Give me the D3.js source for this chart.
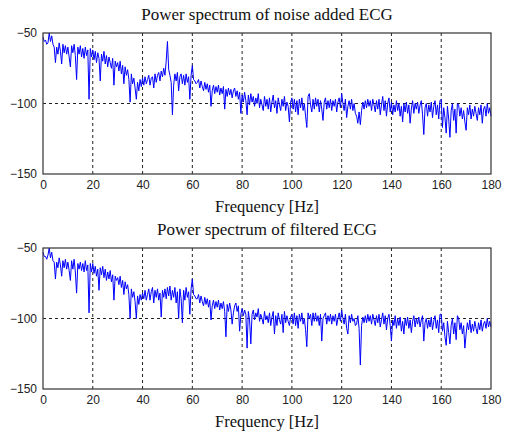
<!DOCTYPE html>
<html>
<head>
<meta charset="utf-8">
<script src="https://cdn.jsdelivr.net/npm/d3@7/dist/d3.min.js"></script>
<style>
    body { margin: 0; background: #ffffff; }
    .tick-label { font-family: "Liberation Sans", Arial, sans-serif; font-size: 12px; fill: #222; }
    .title-text { font-family: "Liberation Serif", "Times New Roman", serif; font-size: 17px; fill: #111; }
    .label-text { font-family: "Liberation Serif", "Times New Roman", serif; font-size: 16.5px; fill: #111; }
</style>
</head>
<body>
<svg id="chart" width="508" height="435"></svg>
<script>
// 頻譜資料 (dB)，頻率間隔 0.5 Hz，從 0 到 180 Hz
const freqStep = 0.5;

const xTicks = [0, 20, 40, 60, 80, 100, 120, 140, 160, 180];
const yTicks = [-50, -100, -150];

const noisyTitle = 'Power spectrum of noise added ECG';
const filteredTitle = 'Power spectrum of filtered ECG';
const xLabel = 'Frequency [Hz]';

// 加入雜訊的 ECG 功率譜
const noisySpectrum = [
    -53,-56,-55,-58,-57,-50,-56,-52,-58,-60,-71,-60,-65,-57,-63,-72,-58,-64,-59,-65,
    -60,-67,-74,-59,-64,-58,-66,-83,-60,-65,-59,-67,-61,-68,-60,-66,-62,-97,-61,-67,
    -62,-69,-63,-71,-64,-68,-84,-65,-70,-63,-72,-66,-74,-67,-71,-75,-68,-87,-70,-74,
    -71,-77,-70,-79,-73,-86,-74,-80,-76,-83,-99,-79,-86,-82,-89,-97,-85,-91,-83,-88,
    -82,-87,-81,-86,-83,-80,-87,-82,-81,-89,-79,-85,-80,-78,-84,-77,-81,-75,-80,-70,
    -56,-76,-80,-85,-108,-87,-79,-84,-78,-91,-81,-79,-86,-80,-87,-79,-85,-81,-97,-80,
    -73,-83,-84,-86,-85,-83,-89,-84,-88,-91,-85,-90,-86,-92,-87,-102,-91,-87,-93,-88,
    -92,-87,-94,-89,-93,-88,-104,-90,-95,-89,-94,-90,-96,-91,-89,-95,-91,-97,-92,-107,
    -94,-99,-92,-98,-108,-94,-101,-93,-99,-95,-102,-96,-100,-93,-103,-97,-101,-105,-95,-102,
    -97,-104,-96,-106,-99,-94,-103,-98,-107,-96,-101,-105,-97,-102,-95,-105,-99,-102,-113,-99,
    -96,-104,-97,-106,-98,-108,-97,-103,-96,-105,-100,-109,-117,-95,-93,-101,-106,-97,-104,-96,
    -102,-97,-106,-98,-104,-112,-99,-96,-104,-98,-103,-97,-105,-98,-102,-97,-106,-99,-96,-103,
    -93,-100,-105,-97,-110,-102,-98,-104,-97,-105,-100,-107,-109,-114,-106,-115,-105,-99,-104,-98,
    -103,-97,-102,-98,-105,-97,-101,-106,-98,-104,-97,-108,-101,-95,-105,-98,-109,-100,-96,-106,
    -99,-108,-101,-106,-98,-105,-100,-109,-102,-113,-100,-106,-99,-107,-101,-114,-104,-98,-107,-100,
    -104,-99,-107,-101,-98,-108,-122,-103,-100,-109,-101,-106,-99,-110,-102,-98,-108,-101,-111,-98,
    -97,-117,-103,-110,-121,-102,-111,-124,-105,-100,-112,-104,-121,-100,-101,-109,-103,-111,-105,-113,
    -119,-103,-108,-101,-111,-104,-109,-102,-107,-112,-103,-108,-101,-114,-104,-102,-109,-100,-107,-103,
    -109
];

// 濾波後的 ECG 功率譜
const filteredSpectrum = [
    -53,-56,-56,-58,-55,-50,-57,-53,-59,-60,-72,-60,-64,-57,-62,-70,-59,-64,-58,-65,
    -60,-66,-73,-59,-65,-58,-67,-82,-61,-65,-60,-66,-61,-67,-59,-66,-62,-96,-61,-67,
    -61,-68,-63,-70,-65,-80,-64,-69,-63,-71,-65,-73,-67,-72,-66,-74,-69,-87,-70,-73,
    -71,-76,-70,-78,-73,-83,-74,-79,-76,-83,-100,-79,-85,-81,-88,-100,-84,-90,-83,-87,
    -82,-86,-80,-87,-83,-79,-87,-81,-78,-89,-80,-85,-79,-87,-82,-99,-80,-85,-79,-86,
    -78,-84,-77,-87,-80,-85,-78,-89,-81,-100,-79,-86,-103,-80,-87,-78,-85,-81,-97,-79,
    -72,-83,-84,-86,-86,-83,-89,-84,-88,-91,-85,-90,-86,-92,-87,-101,-91,-87,-93,-88,
    -92,-87,-94,-89,-93,-88,-95,-113,-90,-95,-89,-94,-104,-96,-91,-89,-95,-91,-109,-97,
    -93,-98,-94,-97,-121,-95,-101,-118,-97,-94,-101,-96,-99,-93,-102,-97,-100,-104,-95,-101,
    -98,-103,-96,-105,-99,-95,-111,-98,-105,-96,-101,-104,-97,-110,-95,-103,-98,-102,-105,-99,
    -97,-104,-96,-105,-98,-107,-97,-102,-96,-104,-100,-108,-120,-96,-100,-97,-105,-96,-102,-96,
    -102,-98,-105,-97,-116,-100,-98,-96,-104,-98,-102,-97,-104,-98,-102,-97,-105,-100,-96,-102,
    -94,-100,-104,-97,-107,-111,-98,-103,-97,-102,-100,-105,-104,-98,-107,-133,-105,-99,-103,-98,
    -103,-97,-102,-98,-104,-97,-101,-105,-98,-103,-97,-106,-101,-96,-104,-98,-108,-100,-97,-105,
    -116,-101,-105,-98,-107,-100,-105,-99,-109,-102,-111,-100,-105,-99,-107,-101,-110,-102,-98,-106,
    -100,-104,-99,-106,-101,-98,-116,-103,-100,-107,-101,-106,-99,-108,-102,-98,-107,-101,-110,-97,
    -97,-109,-103,-113,-119,-102,-110,-118,-105,-100,-111,-103,-115,-98,-100,-108,-103,-111,-105,-121,
    -111,-103,-108,-101,-110,-104,-109,-102,-107,-111,-103,-108,-101,-109,-104,-102,-107,-100,-106,-102,
    -106
];

// 繪製單一子圖
function drawPanel(svg, values, title, box) {
    const xScale = d3.scaleLinear()
        .domain([0, 180])
        .range([box.left, box.right]);

    const yScale = d3.scaleLinear()
        .domain([-150, -50])
        .range([box.bottom, box.top]);

    const g = svg.append('g');

    // 標題
    g.append('text')
        .attr('class', 'title-text')
        .attr('x', (box.left + box.right) / 2)
        .attr('y', box.top - 13)
        .attr('text-anchor', 'middle')
        .text(title);

    // 格線 (虛線)
    g.selectAll('.vgrid')
        .data(xTicks.filter(d => d > 0 && d < 180))
        .enter()
        .append('line')
        .attr('x1', d => xScale(d))
        .attr('x2', d => xScale(d))
        .attr('y1', box.top)
        .attr('y2', box.bottom)
        .attr('stroke', '#222')
        .attr('stroke-width', 1)
        .attr('stroke-dasharray', '3,3');

    g.selectAll('.hgrid')
        .data(yTicks.filter(d => d > -150 && d < -50))
        .enter()
        .append('line')
        .attr('x1', box.left)
        .attr('x2', box.right)
        .attr('y1', d => yScale(d))
        .attr('y2', d => yScale(d))
        .attr('stroke', '#222')
        .attr('stroke-width', 1)
        .attr('stroke-dasharray', '3,3');

    // 頻譜線
    const line = d3.line()
        .x((d, i) => xScale(i * freqStep))
        .y(d => yScale(d));

    g.append('path')
        .datum(values)
        .attr('fill', 'none')
        .attr('stroke', '#0000ff')
        .attr('stroke-width', 1)
        .attr('stroke-linejoin', 'round')
        .attr('d', line);

    // 外框
    g.append('rect')
        .attr('x', box.left)
        .attr('y', box.top)
        .attr('width', box.right - box.left)
        .attr('height', box.bottom - box.top)
        .attr('fill', 'none')
        .attr('stroke', '#333')
        .attr('stroke-width', 1.2);

    // 座標軸刻度文字
    const xAxis = g.append('g')
        .attr('transform', `translate(0, ${box.bottom})`)
        .call(d3.axisBottom(xScale).tickValues(xTicks).tickSize(0).tickPadding(6));
    xAxis.select('.domain').remove();
    xAxis.selectAll('text').attr('class', 'tick-label').attr('fill', null);

    const yAxis = g.append('g')
        .attr('transform', `translate(${box.left}, 0)`)
        .call(d3.axisLeft(yScale).tickValues(yTicks).tickSize(0).tickPadding(6));
    yAxis.select('.domain').remove();
    yAxis.selectAll('text').attr('class', 'tick-label').attr('fill', null);

    // x 軸標籤
    g.append('text')
        .attr('class', 'label-text')
        .attr('x', (box.left + box.right) / 2)
        .attr('y', box.bottom + 38)
        .attr('text-anchor', 'middle')
        .text(xLabel);
}

const svg = d3.select('#chart');

drawPanel(svg, noisySpectrum, noisyTitle, { left: 43, right: 491, top: 33, bottom: 174 });
drawPanel(svg, filteredSpectrum, filteredTitle, { left: 43, right: 491, top: 248, bottom: 389 });
</script>
</body>
</html>
